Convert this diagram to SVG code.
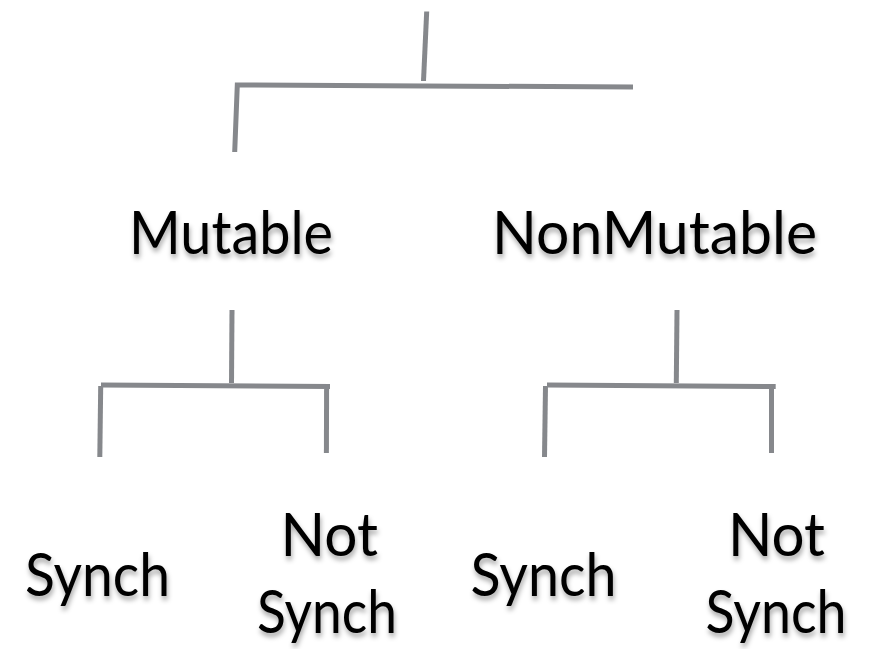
<svg xmlns="http://www.w3.org/2000/svg" width="875" height="649" viewBox="0 0 875 649">
<defs>
<filter id="sh" x="-10%" y="-20%" width="120%" height="150%">
<feDropShadow dx="1" dy="4" stdDeviation="2.5" flood-color="#000" flood-opacity="0.35"/>
</filter>
<style>
.ln{stroke:#86888c;stroke-width:5;fill:none;stroke-linecap:butt;stroke-linejoin:miter}
.t{font-family:Lato,"Open Sans","Liberation Sans",sans-serif;font-size:60px;fill:#000;filter:url(#sh)}
</style>
</defs>
<rect width="875" height="649" fill="#fff"/>
<g id="connectors">
<line class="ln" x1="426.7" y1="11.5" x2="423.5" y2="81"/>
<path class="ln" d="M234.7,152 L237.3,85 L633,87"/>
<line class="ln" x1="232" y1="310" x2="231.5" y2="383"/>
<line class="ln" x1="101" y1="385" x2="330" y2="386.5"/>
<line class="ln" x1="100.7" y1="386" x2="99.8" y2="457"/>
<line class="ln" x1="326.6" y1="389" x2="326.4" y2="453"/>
<line class="ln" x1="677" y1="310" x2="676.3" y2="383"/>
<line class="ln" x1="547" y1="385" x2="775.7" y2="386.5"/>
<line class="ln" x1="545.5" y1="386" x2="544.5" y2="457"/>
<line class="ln" x1="771.5" y1="389" x2="771.5" y2="453"/>
</g>
<g id="mutable"><text class="t" x="129" y="254" textLength="204" lengthAdjust="spacingAndGlyphs">Mutable</text></g>
<g id="nonmutable"><text class="t" x="492" y="254" textLength="325" lengthAdjust="spacingAndGlyphs">NonMutable</text></g>
<g id="synch1"><text class="t" x="25" y="596" textLength="145" lengthAdjust="spacingAndGlyphs">Synch</text></g>
<g id="notsynch1"><text class="t" x="280.5" y="556" textLength="97.5" lengthAdjust="spacingAndGlyphs">Not</text><text class="t" x="257" y="633" textLength="140" lengthAdjust="spacingAndGlyphs">Synch</text></g>
<g id="synch2"><text class="t" x="470.5" y="596" textLength="146" lengthAdjust="spacingAndGlyphs">Synch</text></g>
<g id="notsynch2"><text class="t" x="728" y="556" textLength="97" lengthAdjust="spacingAndGlyphs">Not</text><text class="t" x="705.5" y="633" textLength="141" lengthAdjust="spacingAndGlyphs">Synch</text></g>
</svg>
